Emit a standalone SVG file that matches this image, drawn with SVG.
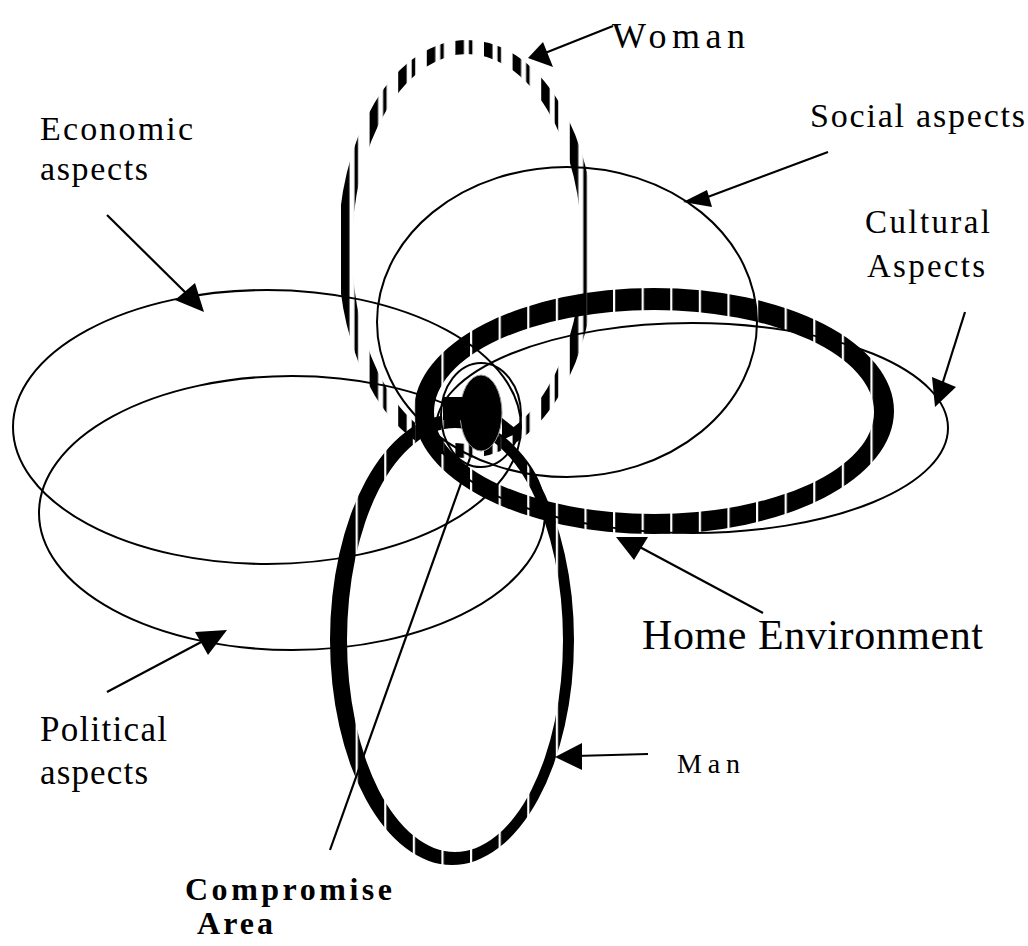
<svg xmlns="http://www.w3.org/2000/svg" width="1028" height="946" viewBox="0 0 1028 946">
<style>
.thin{fill:none;stroke:#000;stroke-width:2}
.ln{stroke:#000;stroke-width:2.2;fill:none}
.ah{fill:#000}
.lbl{font-family:"Liberation Serif","Times New Roman",serif;fill:#000}
.b{font-weight:bold}
</style>
<defs>
<pattern id="pRing" patternUnits="userSpaceOnUse" x="470" y="0" width="28.6" height="946">
<rect width="28.6" height="946" fill="#fff"/>
<rect width="2.2" height="946" fill="#000"/>
</pattern>
<pattern id="pWoman" patternUnits="userSpaceOnUse" x="341" y="0" width="28.6" height="946">
<rect width="8.5" height="946" fill="#fff"/>
<rect x="13.5" width="3.5" height="946" fill="#fff"/>
</pattern>
<mask id="mRing" maskUnits="userSpaceOnUse" x="0" y="0" width="1028" height="946">
<rect width="1028" height="946" fill="url(#pRing)"/>
</mask>
<mask id="mWoman" maskUnits="userSpaceOnUse" x="0" y="0" width="1028" height="946">
<rect width="1028" height="946" fill="url(#pWoman)"/>
</mask>
</defs>
<rect width="1028" height="946" fill="#fff"/>
<g id="economic-aspects"><ellipse class="thin" cx="267" cy="427" rx="254" ry="137"/></g>
<g id="political-aspects"><ellipse class="thin" cx="292" cy="513" rx="253" ry="137"/></g>
<g id="social-aspects"><ellipse class="thin" cx="567" cy="322" rx="190" ry="155"/></g>
<g id="cultural-aspects"><ellipse class="thin" cx="692" cy="428" rx="256" ry="105"/></g>
<g id="compromise-ring"><ellipse class="thin" cx="481" cy="415" rx="40" ry="52"/></g>
<g id="woman"><ellipse cx="467" cy="249" rx="122" ry="202" fill="none" stroke="#000" stroke-width="14" mask="url(#mWoman)"/></g>
<g id="home-environment"><path fill="#000" fill-rule="evenodd" mask="url(#mRing)" d="M414,411 a240,123 0 1,0 480,0 a240,123 0 1,0 -480,0 Z M434,412 a220,102 0 1,0 440,0 a220,102 0 1,0 -440,0 Z"/></g>
<g id="man"><path fill="#000" fill-rule="evenodd" mask="url(#mRing)" d="M330,640 a122,225 0 1,0 244,0 a122,225 0 1,0 -244,0 Z M347,640 a108,212 0 1,0 216,0 a108,212 0 1,0 -216,0 Z"/></g>
<g id="compromise-area"><ellipse cx="481" cy="413" rx="21" ry="38" fill="#000" stroke="#999" stroke-width="1"/>
<polygon class="ah" points="443,397 463,397 463,420 443,420"/>
<polygon class="ah" points="502,418 520,432 502,440"/></g>
<g id="connectors">
<line class="ln" x1="613" y1="26" x2="540" y2="55"/><polygon class="ah" points="528,58 543,42 553,67"/>
<line class="ln" x1="828" y1="152" x2="705" y2="198"/><polygon class="ah" points="683,202 707,190 712,207"/>
<line class="ln" x1="107" y1="215" x2="190" y2="297"/><polygon class="ah" points="175,300 195,283 204,312"/>
<line class="ln" x1="965" y1="312" x2="942" y2="385"/><polygon class="ah" points="932,377 956,387 935,407"/>
<line class="ln" x1="763" y1="613" x2="636" y2="545"/><polygon class="ah" points="616,537 648,537 634,560"/>
<line class="ln" x1="107" y1="692" x2="205" y2="640"/><polygon class="ah" points="195,632 227,630 208,655"/>
<line class="ln" x1="648" y1="754" x2="575" y2="756"/><polygon class="ah" points="555,757 582,743 582,770"/>
<line class="ln" x1="330" y1="850" x2="470" y2="458"/>
</g>
<g id="labels">
<text class="lbl" x="612" y="48" font-size="36" textLength="133" lengthAdjust="spacing">Woman</text>
<text class="lbl" x="810" y="127" font-size="34" textLength="215" lengthAdjust="spacing">Social aspects</text>
<text class="lbl" x="40" y="140" font-size="34" textLength="153" lengthAdjust="spacing">Economic</text>
<text class="lbl" x="40" y="180" font-size="34" textLength="108" lengthAdjust="spacing">aspects</text>
<text class="lbl" x="865" y="233" font-size="33" textLength="125" lengthAdjust="spacing">Cultural</text>
<text class="lbl" x="867" y="277" font-size="33" textLength="118" lengthAdjust="spacing">Aspects</text>
<text class="lbl" x="642" y="649" font-size="42" textLength="341" lengthAdjust="spacing">Home Environment</text>
<text class="lbl" x="677" y="773" font-size="28" textLength="63" lengthAdjust="spacing">Man</text>
<text class="lbl" x="40" y="741" font-size="35" textLength="127" lengthAdjust="spacing">Political</text>
<text class="lbl" x="40" y="784" font-size="35" textLength="108" lengthAdjust="spacing">aspects</text>
<text class="lbl b" x="185" y="900" font-size="32" textLength="207" lengthAdjust="spacing">Compromise</text>
<text class="lbl b" x="197" y="934" font-size="32" textLength="76" lengthAdjust="spacing">Area</text>
</g>
</svg>
